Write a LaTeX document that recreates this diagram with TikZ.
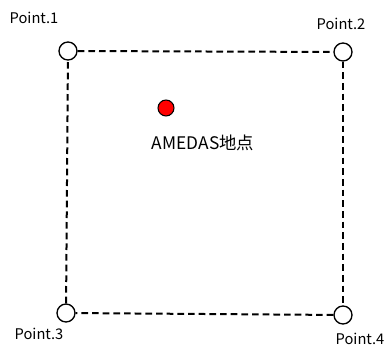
\documentclass[tikz,border=0pt]{standalone}
\usepackage{fontspec}
\setmainfont{Noto Sans CJK JP}
\usepackage{tikz}
\usetikzlibrary{positioning}

\tikzset{
  grid point/.style={circle,draw,fill=white,line width=1pt,minimum size=13.5pt,inner sep=0pt},
  station/.style={circle,draw,fill=red,line width=0.8pt,minimum size=12pt,inner sep=0pt},
  grid edge/.style={line width=1.5pt,dash pattern=on 5pt off 3pt},
  lbl/.style={font=\fontsize{11pt}{13pt}\selectfont,inner sep=0pt}
}

\begin{document}
\begin{tikzpicture}[x=0.75pt,y=-0.75pt]
\useasboundingbox (0,0) rectangle (392,352);
% corner points of the mesh
\node[grid point] (P1) at (68,51) {};
\node[grid point] (P2) at (343,52) {};
\node[grid point] (P3) at (66,313) {};
\node[grid point] (P4) at (343,315) {};
% mesh border
\draw[grid edge] (P1) -- (P2);
\draw[grid edge] (P2) -- (P4);
\draw[grid edge] (P4) -- (P3);
\draw[grid edge] (P3) -- (P1);
% AMEDAS station
\node[station] (S) at (166,108) {};
\node[lbl,font=\fontsize{13pt}{15pt}\selectfont] (Slbl) at (203,143) {AMEDAS地点};
% labels
\node[lbl] (L1) at (34,18) {Point.1};
\node[lbl] (L2) at (341,24) {Point.2};
\node[lbl] (L3) at (39,334) {Point.3};
\node[lbl] (L4) at (360,339) {Point.4};
\end{tikzpicture}
\end{document}
